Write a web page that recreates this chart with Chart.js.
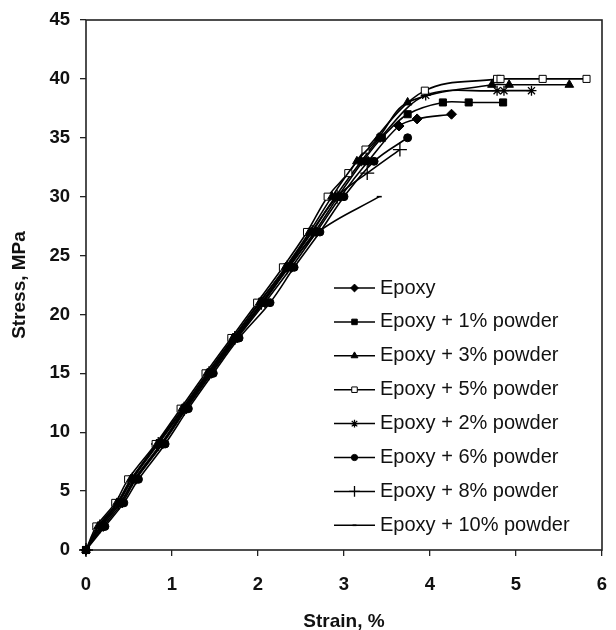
<!DOCTYPE html>
<html>
<head>
<meta charset="utf-8">
<script src="https://cdn.jsdelivr.net/npm/chart.js@4/dist/chart.umd.min.js"></script>
<style>
  html, body { margin: 0; padding: 0; background: #fff; }
  #wrap { width: 616px; height: 630px; }
</style>
</head>
<body>
<div id="wrap"><canvas id="chart" width="616" height="630"></canvas></div>
<script>
// stress-strain curves, strain in %, stress in MPa
const seriesNames = ['Epoxy', 'Epoxy + 1% powder', 'Epoxy + 3% powder', 'Epoxy + 5% powder',
  'Epoxy + 2% powder', 'Epoxy + 6% powder', 'Epoxy + 8% powder', 'Epoxy + 10% powder'];

const strainEpoxy = [0, 0.20, 0.42, 0.58, 0.89, 1.17, 1.46, 1.76, 2.08, 2.39, 2.68, 2.96, 3.28, 3.64, 3.85, 4.25];
const stressEpoxy = [0, 2, 4, 6, 9, 12, 15, 18, 21, 24, 27, 30, 33, 36, 36.6, 37];

const strainP1 = [0, 0.18, 0.40, 0.56, 0.87, 1.15, 1.44, 1.74, 2.05, 2.35, 2.66, 2.93, 3.22, 3.44, 3.74, 4.15, 4.45, 4.85];
const stressP1 = [0, 2, 4, 6, 9, 12, 15, 18, 21, 24, 27, 30, 33, 35, 37, 38, 38, 38];

const strainP3 = [0, 0.14, 0.36, 0.52, 0.83, 1.12, 1.41, 1.71, 2.02, 2.32, 2.60, 2.86, 3.15, 3.40, 3.74, 4.72, 4.92, 5.62];
const stressP3 = [0, 2, 4, 6, 9, 12, 15, 18, 21, 24, 27, 30, 33, 35, 38, 39.5, 39.5, 39.5];

const strainP5 = [0, 0.12, 0.34, 0.49, 0.81, 1.10, 1.39, 1.69, 1.99, 2.29, 2.57, 2.81, 3.05, 3.25, 3.94, 4.78, 4.82, 5.31, 5.82];
const stressP5 = [0, 2, 4, 6, 9, 12, 15, 18, 21, 24, 27, 30, 32, 34, 39, 40, 40, 40, 40];

const strainP2 = [0, 0.15, 0.37, 0.53, 0.82, 1.13, 1.42, 1.72, 2.01, 2.33, 2.62, 2.90, 3.20, 3.42, 3.95, 4.78, 4.86, 5.18];
const stressP2 = [0, 2, 4, 6, 9, 12, 15, 18, 21, 24, 27, 30, 33, 35, 38.6, 39, 39, 39];

const strainP6 = [0, 0.22, 0.44, 0.61, 0.92, 1.19, 1.48, 1.78, 2.14, 2.42, 2.72, 3.00, 3.35, 3.74];
const stressP6 = [0, 2, 4, 6, 9, 12, 15, 18, 21, 24, 27, 30, 33, 35];

const strainP8 = [0, 0.16, 0.38, 0.54, 0.84, 1.14, 1.43, 1.73, 2.04, 2.34, 2.63, 2.92, 3.27, 3.65];
const stressP8 = [0, 2, 4, 6, 9, 12, 15, 18, 21, 24, 27, 30, 32, 34];

const strainP10 = [0, 0.17, 0.40, 0.57, 0.88, 1.16, 1.45, 1.75, 2.06, 2.36, 2.70, 3.41];
const stressP10 = [0, 2, 4, 6, 9, 12, 15, 18, 21, 24, 27, 30];

const strainTicks = [0, 1, 2, 3, 4, 5, 6];
const stressTicks = [0, 5, 10, 15, 20, 25, 30, 35, 40, 45];

const FONT = '"Liberation Sans", Arial, Helvetica, sans-serif';

function pts(xs, ys) {
  return xs.map((x, i) => ({ x: x, y: ys[i] }));
}

// marker style for each curve, same order as seriesNames
const markers = [
  { style: 'rectRot', r: 5, fill: '#000', bw: 1 },
  { style: 'rect', r: 5, fill: '#000', bw: 1 },
  { style: 'triangle', r: 5, fill: '#000', bw: 1 },
  { style: 'rect', r: 5, fill: '#fff', bw: 1 },
  { style: 'star', r: 5, fill: '#000', bw: 1.3 },
  { style: 'circle', r: 4, fill: '#000', bw: 1 },
  { style: 'cross', r: 7, fill: '#000', bw: 1.3 },
  { style: 'line', r: 2.5, fill: '#000', bw: 1.6 }
];

const curves = [
  pts(strainEpoxy, stressEpoxy), pts(strainP1, stressP1), pts(strainP3, stressP3), pts(strainP5, stressP5),
  pts(strainP2, stressP2), pts(strainP6, stressP6), pts(strainP8, stressP8), pts(strainP10, stressP10)
];

const datasets = curves.map((d, i) => ({
  label: seriesNames[i],
  data: d,
  borderColor: '#000',
  borderWidth: 1.6,
  tension: 0.35,
  fill: false,
  clip: false,
  pointStyle: markers[i].style,
  pointRadius: markers[i].r,
  pointBackgroundColor: markers[i].fill,
  pointBorderColor: '#000',
  pointBorderWidth: markers[i].bw
}));

// frame around the plot area
const frame = {
  id: 'frame',
  beforeDatasetsDraw(chart) {
    const a = chart.chartArea, ctx = chart.ctx;
    ctx.save();
    ctx.strokeStyle = '#222';
    ctx.lineWidth = 1.6;
    ctx.strokeRect(a.left, a.top, a.right - a.left, a.bottom - a.top);
    ctx.restore();
  }
};

// legend with a line sample and marker, inside the plot
const insideLegend = {
  id: 'insideLegend',
  afterDatasetsDraw(chart) {
    const a = chart.chartArea, ctx = chart.ctx;
    const x0 = a.left + 248, x1 = a.left + 289, y0 = a.top + 268, step = 33.9;
    ctx.save();
    chart.data.datasets.forEach((ds, i) => {
      const y = y0 + i * step;
      ctx.strokeStyle = '#000';
      ctx.lineWidth = 1.5;
      ctx.beginPath();
      ctx.moveTo(x0, y);
      ctx.lineTo(x1, y);
      ctx.stroke();
      ctx.fillStyle = ds.pointBackgroundColor;
      ctx.strokeStyle = '#000';
      ctx.lineWidth = ds.pointBorderWidth;
      Chart.helpers.drawPoint(ctx, {
        pointStyle: ds.pointStyle,
        radius: ds.pointRadius * 0.78,
        rotation: 0,
        borderWidth: ds.pointBorderWidth
      }, (x0 + x1) / 2, y);
      ctx.fillStyle = '#111';
      ctx.font = '20px ' + FONT;
      ctx.textAlign = 'left';
      ctx.textBaseline = 'middle';
      ctx.fillText(ds.label, x1 + 5, y);
    });
    ctx.restore();
  }
};

new Chart(document.getElementById('chart'), {
  type: 'line',
  data: { datasets: datasets },
  plugins: [frame, insideLegend],
  options: {
    responsive: false,
    animation: false,
    layout: { padding: { top: 20, right: 14, left: 0, bottom: 0 } },
    plugins: { legend: { display: false }, tooltip: { enabled: false } },
    scales: {
      x: {
        type: 'linear',
        min: 0,
        max: 6,
        afterFit(s) { s.height = 80; s.paddingLeft = 0; s.paddingRight = 0; },
        afterBuildTicks(s) { s.ticks = strainTicks.map(v => ({ value: v })); },
        grid: { drawOnChartArea: false, drawTicks: true, tickLength: 6, color: '#222', lineWidth: 1.3 },
        border: { display: false },
        ticks: { color: '#111', padding: 18, font: { family: FONT, size: 18.5, weight: 'bold' } },
        title: {
          display: true, text: 'Strain, %', color: '#111',
          font: { family: FONT, size: 19, weight: 'bold', lineHeight: 1 },
          padding: { top: 0, bottom: -1 }
        }
      },
      y: {
        type: 'linear',
        min: 0,
        max: 45,
        afterFit(s) { s.width = 86; s.paddingTop = 0; s.paddingBottom = 0; },
        afterBuildTicks(s) { s.ticks = stressTicks.map(v => ({ value: v })); },
        grid: { drawOnChartArea: false, drawTicks: true, tickLength: 6, color: '#222', lineWidth: 1.3 },
        border: { display: false },
        ticks: { color: '#111', padding: 10, font: { family: FONT, size: 18.5, weight: 'bold' } },
        title: {
          display: true, text: 'Stress, MPa', color: '#111',
          font: { family: FONT, size: 19, weight: 'bold', lineHeight: 1.2 },
          padding: { top: 8, bottom: 0 }
        }
      }
    }
  }
});
</script>
</body>
</html>
